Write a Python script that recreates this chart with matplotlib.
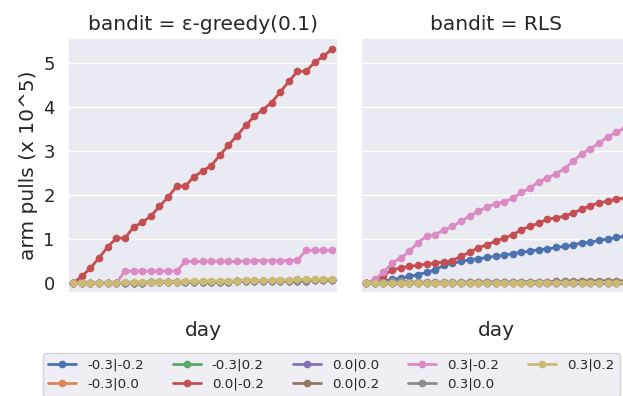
import matplotlib
matplotlib.use("Agg")
import matplotlib.pyplot as plt
import seaborn as sns

sns.set_theme(style="darkgrid")

days = list(range(31))
arms = ["-0.3|-0.2", "-0.3|0.0", "-0.3|0.2", "0.0|-0.2", "0.0|0.0",
        "0.0|0.2", "0.3|-0.2", "0.3|0.0", "0.3|0.2"]
colors = sns.color_palette("deep", 9)

# arm pulls (x 10^5), epsilon-greedy(0.1)
eg_red = [0.0, 0.15, 0.34, 0.57, 0.82, 1.02, 1.02, 1.27, 1.38, 1.52, 1.74,
          1.95, 2.2, 2.2, 2.42, 2.54, 2.67, 2.9, 3.13, 3.35, 3.58, 3.79,
          3.94, 4.1, 4.34, 4.58, 4.81, 4.81, 5.02, 5.15, 5.32]
eg_pink = [0.0, 0.0, 0.0, 0.0, 0.0, 0.0, 0.27, 0.27, 0.27, 0.27, 0.27,
           0.27, 0.27, 0.49, 0.49, 0.49, 0.49, 0.49, 0.49, 0.49, 0.5, 0.51,
           0.51, 0.51, 0.51, 0.51, 0.52, 0.74, 0.74, 0.74, 0.74]
eg_yellow = [0.0, 0.0, 0.0, 0.01, 0.01, 0.01, 0.02, 0.02, 0.02, 0.02, 0.03,
             0.03, 0.03, 0.04, 0.04, 0.04, 0.05, 0.05, 0.05, 0.05, 0.06, 0.06,
             0.06, 0.06, 0.07, 0.07, 0.08, 0.08, 0.08, 0.09, 0.09]
eg_small = [0.0, 0.0, 0.0, 0.0, 0.01, 0.01, 0.01, 0.01, 0.01, 0.02, 0.02,
            0.02, 0.02, 0.02, 0.03, 0.03, 0.03, 0.03, 0.03, 0.04, 0.04, 0.04,
            0.04, 0.04, 0.05, 0.05, 0.05, 0.05, 0.06, 0.06, 0.06]

# arm pulls (x 10^5), RLS
rls_blue = [0.0, 0.02, 0.04, 0.08, 0.11, 0.15, 0.19, 0.24, 0.3, 0.4, 0.45,
            0.49, 0.53, 0.55, 0.58, 0.61, 0.63, 0.67, 0.7, 0.72, 0.76, 0.77,
            0.81, 0.83, 0.87, 0.91, 0.93, 0.97, 1.0, 1.04, 1.06]
rls_red = [0.0, 0.04, 0.17, 0.3, 0.34, 0.38, 0.4, 0.43, 0.45, 0.48, 0.51,
           0.61, 0.7, 0.8, 0.87, 0.95, 1.02, 1.1, 1.21, 1.29, 1.36, 1.45,
           1.48, 1.52, 1.59, 1.68, 1.76, 1.82, 1.86, 1.91, 1.93]
rls_pink = [0.0, 0.08, 0.24, 0.45, 0.57, 0.72, 0.92, 1.06, 1.1, 1.2, 1.29,
            1.4, 1.52, 1.63, 1.73, 1.8, 1.84, 1.93, 2.06, 2.16, 2.3, 2.39,
            2.48, 2.6, 2.77, 2.94, 3.05, 3.18, 3.32, 3.43, 3.52]
rls_gray = [0.0, 0.01, 0.02, 0.04, 0.04, 0.02, 0.02, 0.02, 0.02, 0.02, 0.02,
            0.02, 0.02, 0.02, 0.02, 0.02, 0.02, 0.02, 0.02, 0.02, 0.02, 0.02,
            0.02, 0.02, 0.02, 0.02, 0.02, 0.02, 0.02, 0.02, 0.02]
rls_brown = [0.0, 0.0, 0.0, 0.0, 0.0, 0.01, 0.01, 0.01, 0.01, 0.01, 0.01,
             0.01, 0.02, 0.02, 0.02, 0.02, 0.02, 0.02, 0.03, 0.03, 0.03, 0.03,
             0.04, 0.04, 0.05, 0.05, 0.05, 0.05, 0.05, 0.05, 0.05]
rls_yellow = [0.0, 0.0, 0.0, 0.0, 0.0, 0.0, 0.0, 0.0, 0.0, 0.0, 0.0,
              0.0, 0.0, 0.0, 0.0, 0.0, 0.0, 0.0, 0.0, 0.0, 0.01, 0.01,
              0.01, 0.01, 0.01, 0.01, 0.01, 0.01, 0.01, 0.01, 0.01]
rls_small = [0.0] * 31

eg_series = [eg_small, eg_small, eg_small, eg_red, eg_small,
             eg_small, eg_pink, eg_small, eg_yellow]
rls_series = [rls_blue, rls_small, rls_small, rls_red, rls_small,
              rls_brown, rls_pink, rls_gray, rls_yellow]


def main():
    fig = plt.figure(figsize=(6.23, 3.96), dpi=100)
    ax1 = fig.add_axes([68 / 623, 1 - 293 / 396, 270 / 623, 255 / 396])
    ax2 = fig.add_axes([361 / 623, 1 - 293 / 396, 270 / 623, 255 / 396],
                       sharey=ax1)

    for ax, series, name in [(ax1, eg_series, "ε-greedy(0.1)"),
                             (ax2, rls_series, "RLS")]:
        for arm, vals, c in zip(arms, series, colors):
            ax.plot(days, vals, color=c, marker="o", markersize=4.5,
                    linewidth=2, label=arm)
        ax.set_title("bandit = " + name, fontsize=14.5, color="#262626")
        ax.set_xlim(-0.6, 30.7)
        ax.set_xticks([])
        ax.set_xlabel("day", fontsize=14.5, color="#262626", labelpad=20)

    ax1.set_ylim(-0.227, 5.568)
    ax1.set_yticks(range(6))
    ax1.tick_params(axis="y", labelsize=13, colors="#262626")
    ax2.tick_params(axis="y", labelleft=False)
    ax1.set_ylabel("arm pulls (x 10^5)", fontsize=14.5, color="#262626")

    handles, labels = ax1.get_legend_handles_labels()
    fig.legend(handles, labels, ncol=5, loc="upper left",
               bbox_to_anchor=(43 / 623, 1 - 353 / 396),
               fontsize=9.6, columnspacing=2.2, borderaxespad=0,
               handlelength=2.1)

    fig.savefig("out.png", dpi=100)


if __name__ == "__main__":
    main()
